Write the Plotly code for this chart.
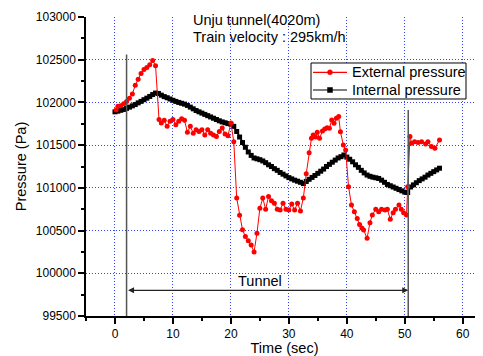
import plotly.graph_objects as go

# ---------------- data ----------------
int_time = [i * 0.5 for i in range(113)]  # 0 .. 56 s
int_pressure = [
    101890, 101898, 101908, 101918, 101930, 101945, 101960, 101975, 101995, 102012,
    102032, 102050, 102070, 102092, 102110, 102105, 102085, 102068, 102055, 102040,
    102025, 102012, 102000, 101990, 101980, 101965, 101945, 101925, 101905, 101890,
    101875, 101860, 101845, 101830, 101815, 101800, 101785, 101772, 101762, 101752,
    101745, 101720, 101660, 101595, 101530, 101475, 101420, 101380, 101350, 101340,
    101330, 101315, 101295, 101270, 101250, 101225, 101205, 101180, 101160, 101140,
    101120, 101105, 101090, 101078, 101065, 101050, 101075, 101100, 101122, 101145,
    101170, 101195, 101220, 101250, 101275, 101300, 101325, 101350, 101365, 101385,
    101360, 101335, 101305, 101270, 101240, 101205, 101175, 101150, 101135, 101125,
    101118, 101110, 101090, 101065, 101040, 101025, 101010, 100995, 100980, 100965,
    100950, 100945, 101010, 101035, 101060, 101085, 101105, 101125, 101150, 101170,
    101190, 101210, 101230,
]

ext_time = [
    0.2, 0.5, 1.0, 1.5, 2.0, 2.5, 3.0, 3.5, 4.0, 4.5, 5.0, 5.5, 6.0, 6.5, 7.0,
    7.6, 8.0, 8.5, 9.0, 9.5, 10.0, 10.5, 11.0, 11.5, 12.0, 12.5, 13.0, 13.5, 14.0,
    14.5, 15.0, 15.5, 16.0, 16.5, 17.0, 17.5, 18.0, 18.5, 19.0, 19.5, 20.0, 20.5,
    21.0, 21.5, 22.0, 22.5, 23.0, 23.5, 24.0, 24.5, 25.0, 25.5, 26.0, 26.5, 27.0,
    27.5, 28.0, 28.5, 29.0, 29.5, 30.0, 30.5, 31.0, 31.5, 32.0, 32.5, 33.0, 33.5,
    33.9, 34.2, 34.6, 34.9, 35.3, 35.8, 36.2, 36.6, 37.0, 37.4, 37.8, 38.2, 38.6,
    38.9, 39.4, 39.8, 40.3, 40.8, 41.3, 41.8, 42.2, 42.6, 42.9, 43.5, 44.0, 44.4,
    45.0, 45.5, 46.0, 46.6, 47.0, 47.5, 48.0, 48.4, 49.0, 49.4, 49.8, 50.3, 50.5,
    50.9, 51.2, 51.7, 52.3, 52.9, 53.6, 54.0, 54.6, 55.2, 56.0,
]
ext_pressure = [
    101910, 101955, 101960, 101985, 102010, 102050, 102100, 102200, 102270, 102340,
    102385, 102410, 102440, 102490, 102430, 101800, 101760, 101790, 101720, 101780,
    101800, 101740, 101780, 101810, 101790, 101650, 101720, 101640, 101680, 101660,
    101680, 101620, 101680, 101640, 101620, 101600, 101660, 101700, 101630, 101610,
    101760, 101540, 100880, 100680, 100510, 100430, 100380, 100330, 100250, 100470,
    100760, 100880, 100750, 100900, 100850, 100820, 100750, 100740, 100820, 100750,
    100740, 100810, 100740, 100820, 100730, 100880, 101165, 101410, 101580, 101620,
    101595, 101650, 101580, 101665, 101690, 101705, 101698, 101795, 101757, 101815,
    101834, 101658, 101502, 101444, 101014, 100800, 100720, 100640, 100570, 100530,
    100507, 100410, 100593, 100683, 100749, 100721, 100749, 100741, 100749, 100632,
    100710, 100749, 100800, 100749, 100710, 100683, 101014, 101600, 101522, 101541,
    101530, 101541, 101514, 101541, 101483, 101463, 101561,
]

x_ticks = [0, 10, 20, 30, 40, 50, 60]
y_ticks = [99500, 100000, 100500, 101000, 101500, 102000, 102500, 103000]

tunnel_in, tunnel_out = 2.0, 50.6
tunnel_in_top, tunnel_out_top = 102560, 101910
arrow_level = 99800
tunnel_label_pos = (25, 99910)

title_lines = ["Unju tunnel(4020m)", "Train velocity : 295km/h"]
series_names = ["External pressure", "Internal pressure"]
series_colors = ["#ff0000", "black"]

FONT = "Liberation Sans, Arial, sans-serif"

fig = go.Figure()
fig.add_trace(go.Scatter(
    x=int_time, y=int_pressure, mode="lines+markers", name=series_names[1],
    line=dict(color=series_colors[1], width=1.5),
    marker=dict(symbol="square", size=5, color=series_colors[1]),
    showlegend=False,
))
fig.add_trace(go.Scatter(
    x=ext_time, y=ext_pressure, mode="lines+markers", name=series_names[0],
    line=dict(color=series_colors[0], width=1),
    marker=dict(symbol="circle", size=5, color=series_colors[0]),
    showlegend=False,
))

# tunnel entry / exit lines
for xv, ytop in [(tunnel_in, tunnel_in_top), (tunnel_out, tunnel_out_top)]:
    fig.add_shape(type="line", xref="x", yref="y", x0=xv, x1=xv, y0=99500, y1=ytop,
                  line=dict(color="#555555", width=1.5))

# double arrow
fig.add_annotation(x=tunnel_out, y=arrow_level, ax=tunnel_in, ay=arrow_level,
                   xref="x", yref="y", axref="x", ayref="y", text="",
                   showarrow=True, arrowhead=2, arrowside="end+start",
                   arrowsize=1, arrowwidth=1.2, arrowcolor="#222222", standoff=0,
                   startstandoff=0)
fig.add_annotation(x=tunnel_label_pos[0], y=tunnel_label_pos[1], xref="x", yref="y",
                   text="Tunnel", showarrow=False,
                   font=dict(family=FONT, size=14.5, color="black"))

fig.add_annotation(x=0.2637, y=0.990, xref="paper", yref="paper", xanchor="left",
                   yanchor="middle", text=title_lines[0], showarrow=False,
                   font=dict(family=FONT, size=14.5, color="black"))
fig.add_annotation(x=0.2637, y=0.932, xref="paper", yref="paper", xanchor="left",
                   yanchor="middle", text=title_lines[1], showarrow=False,
                   font=dict(family=FONT, size=14.5, color="black"))

# ---- legend box (drawn by hand to match the compact original) ----
LX0, LX1, LY0, LY1 = 0.5668, 0.9572, 0.7258, 0.8462
row_y = [0.8151, 0.7559]
line_x0, line_x1, mark_x, text_x = 0.5718, 0.6574, 0.6146, 0.665
mhx, mhy = 0.0063, 0.0084
fig.add_shape(type="rect", xref="paper", yref="paper", x0=LX0, x1=LX1, y0=LY0, y1=LY1,
              line=dict(color="black", width=1), fillcolor="white", layer="above")
for i, ry in enumerate(row_y):
    fig.add_shape(type="line", xref="paper", yref="paper", x0=line_x0, x1=line_x1,
                  y0=ry, y1=ry, line=dict(color=series_colors[i], width=1.2))
    fig.add_shape(type="circle" if i == 0 else "rect", xref="paper", yref="paper",
                  x0=mark_x - mhx, x1=mark_x + mhx, y0=ry - mhy, y1=ry + mhy,
                  line=dict(color=series_colors[i], width=0.5),
                  fillcolor=series_colors[i])
    fig.add_annotation(x=text_x, y=ry, xref="paper", yref="paper", xanchor="left",
                       yanchor="middle", text=series_names[i], showarrow=False,
                       font=dict(family=FONT, size=14.5, color="black"))

axis_common = dict(
    showline=True, linecolor="black", linewidth=1.5, mirror=False,
    ticks="outside", ticklen=6, tickwidth=1.5, tickcolor="black",
    showgrid=True, gridcolor="#3344ff", gridwidth=1, griddash="1px,2px",
    zeroline=False, tickfont=dict(family=FONT, size=12, color="black"),
)

# page body has an 8px margin: size figure so the plot area lands where the reference has it
fig.update_layout(
    width=475, height=348,
    margin=dict(l=78, r=0, t=9, b=40, autoexpand=False),
    paper_bgcolor="white", plot_bgcolor="white",
    font=dict(family=FONT, color="black"),
    xaxis=dict(range=[-5, 63.5], tickvals=x_ticks,
               title=dict(text="Time (sec)", font=dict(family=FONT, size=14.5), standoff=4),
               minor=dict(dtick=5, tick0=0, ticklen=3, tickwidth=1.5, tickcolor="black",
                          ticks="outside", showgrid=False),
               **axis_common),
    yaxis=dict(range=[99500, 103000], tickvals=y_ticks, tickformat="d",
               title=dict(text="Pressure (Pa)", font=dict(family=FONT, size=14.5), standoff=6),
               minor=dict(dtick=250, tick0=99500, ticklen=3, tickwidth=1.5, tickcolor="black",
                          ticks="outside", showgrid=False),
               **axis_common),
    showlegend=False,
)

fig.write_html("out.html")
